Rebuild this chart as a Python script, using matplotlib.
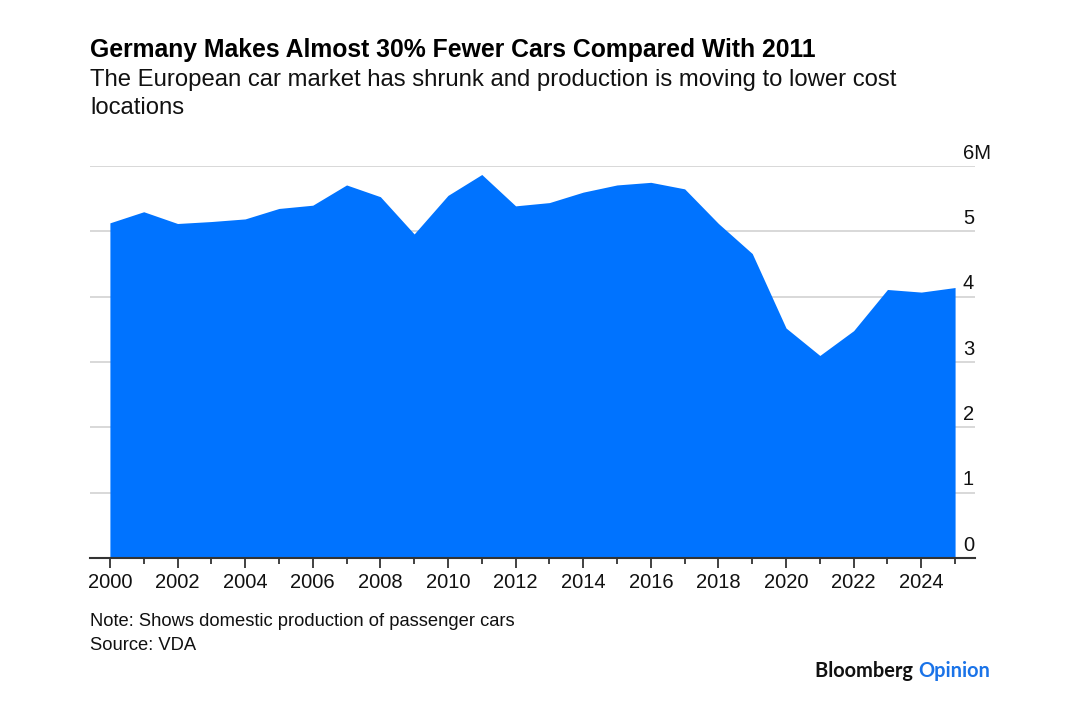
import numpy as np
import matplotlib
matplotlib.use("Agg")
import matplotlib.pyplot as plt
import matplotlib.transforms as mtransforms

plt.rcParams['font.family'] = ['Liberation Sans', 'DejaVu Sans']

# domestic passenger car production, millions (VDA)
years = list(range(2000, 2026))
production = [5.13, 5.30, 5.12, 5.15, 5.19, 5.35, 5.40, 5.71, 5.53, 4.96,
              5.55, 5.87, 5.39, 5.44, 5.60, 5.71, 5.75, 5.65, 5.12, 4.66,
              3.52, 3.10, 3.48, 4.11, 4.07, 4.14]
ytick_vals = [0, 1, 2, 3, 4, 5, 6]
ytick_labels = ['0', '1', '2', '3', '4', '5', '6M']
xtick_major = list(range(2000, 2025, 2))

title = "Germany Makes Almost 30% Fewer Cars Compared With 2011"
subtitle_lines = ["The European car market has shrunk and production is moving to lower cost",
                  "locations"]
note = "Note: Shows domestic production of passenger cars"
source = "Source: VDA"

blue = '#0073ff'
grid_c = '#d6d6d6'
axis_c = '#333333'

fig = plt.figure(figsize=(10.8, 7.14), dpi=100)
ax = fig.add_axes([0.0833, 0.2185, 0.8195, 0.549])

ax.fill_between(years, production, 0, color=blue, lw=0, zorder=2)

ax.set_xlim(1999.41, 2025.59)
ax.set_ylim(0, 6)

for v in ytick_vals[1:]:
    ax.axhline(v, color=grid_c, lw=1.3, zorder=1)

for s in ['top', 'left', 'right']:
    ax.spines[s].set_visible(False)
ax.spines['bottom'].set_color(axis_c)
ax.spines['bottom'].set_linewidth(1.5)
ax.spines['bottom'].set_zorder(3)

ax.set_yticks([])
ax.set_xticks(xtick_major)
ax.set_xticklabels([str(y) for y in xtick_major], fontsize=14.5, color='#111111')
ax.set_xticks(years, minor=True)
ax.tick_params(axis='x', which='major', length=7, width=1.3, color=axis_c, pad=4)
ax.tick_params(axis='x', which='minor', length=4, width=1.3, color=axis_c)

# value labels sit above the gridlines, left-aligned near the right edge
trans = mtransforms.blended_transform_factory(ax.transAxes, ax.transData)
for v, lab in zip(ytick_vals, ytick_labels):
    ax.annotate(lab, xy=(0.9864, v), xycoords=trans, xytext=(0, 2.5),
                textcoords='offset points', ha='left', va='bottom',
                fontsize=14.5, color='#111111', annotation_clip=False)

fig.text(0.0833, 1 - 50 / 714, title, fontsize=17.8, fontweight='bold',
         va='center', ha='left', color='#000000')
for i, line in enumerate(subtitle_lines):
    fig.text(0.0833, 1 - (80 + 28 * i) / 714, line, fontsize=17.2, va='center',
             ha='left', color='#111111')
fig.text(0.0833, 1 - 622 / 714, note, fontsize=13.2, va='center', ha='left', color='#111111')
fig.text(0.0833, 1 - 646 / 714, source, fontsize=13.2, va='center', ha='left', color='#111111')

t1 = fig.text(0.0, 1 - 671 / 714, "Bloomberg ", fontsize=14.4, fontweight='bold',
              va='center', ha='left', color='#111111', family=['Lato', 'DejaVu Sans'])
t2 = fig.text(0.0, 1 - 671 / 714, "Opinion", fontsize=14.4, fontweight='bold',
              va='center', ha='left', color='#1a73e8', family=['Lato', 'DejaVu Sans'])
fig.canvas.draw()
r = fig.canvas.get_renderer()
w1 = t1.get_window_extent(r).width
w2 = t2.get_window_extent(r).width
right = 990
t1.set_x((right - w1 - w2) / 1080)
t2.set_x((right - w2) / 1080)

fig.savefig('out.png', dpi=100, facecolor='white')
